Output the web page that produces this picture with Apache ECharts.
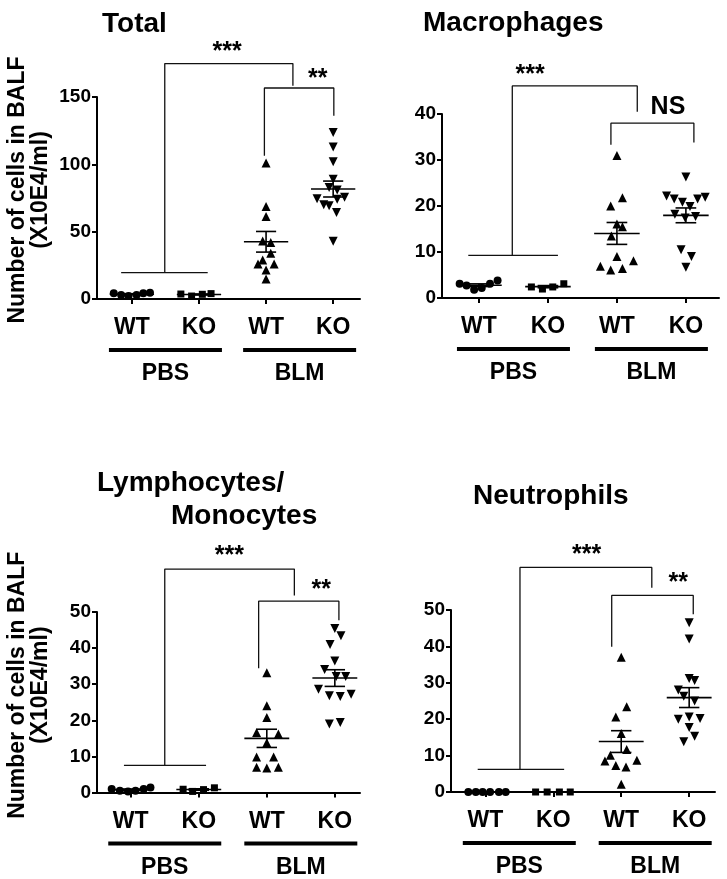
<!DOCTYPE html>
<html>
<head>
<meta charset="utf-8">
<script src="https://cdn.jsdelivr.net/npm/echarts@6/dist/echarts.min.js"></script>
<style>
html, body { margin: 0; padding: 0; background: #fff; }
#chart { width: 727px; height: 879px; }
</style>
</head>
<body>
<div id="chart"></div>
<script>
const xLabels = ['WT', 'KO', 'WT', 'KO']
const groupLabels = ['PBS', 'BLM']

// [x jitter position, value]
const totalPbsWt = [[0.73, 4.2], [0.84, 3.0], [0.95, 2.2], [1.07, 3.0], [1.17, 4.2], [1.27, 4.7]]
const totalPbsKo = [[1.73, 3.7], [1.89, 2.2], [2.05, 3.5], [2.18, 4.0]]
const totalBlmWt = [[3.0, 101], [3.0, 68.7], [3.0, 61.2], [2.95, 43], [3.07, 42], [3.07, 34],
  [2.95, 29], [2.88, 26], [3.12, 26], [3.0, 21.6], [3.0, 14.9]]
const totalBlmKo = [[4.0, 123.7], [4.0, 112.8], [4.0, 101.9], [4.0, 89], [3.94, 82.8], [4.06, 81],
  [3.76, 74.4], [3.86, 70], [3.94, 69.2], [4.06, 74], [4.17, 75.6], [4.05, 64.2], [4.0, 42.9]]

const macroPbsWt = [[0.72, 3.1], [0.82, 2.7], [0.93, 1.8], [1.04, 2.2], [1.16, 3.1], [1.27, 3.8]]
const macroPbsKo = [[1.76, 2.4], [1.92, 1.95], [2.07, 2.4], [2.23, 3.1]]
const macroBlmWt = [[3.0, 31.0], [3.08, 21.8], [2.91, 20.0], [3.0, 16.1], [3.08, 15.5], [2.92, 13.5],
  [3.0, 9.0], [2.76, 6.9], [2.91, 6.1], [3.08, 6.4], [3.24, 8.1]]
const macroBlmKo = [[4.0, 26.3], [3.72, 22.2], [3.83, 21.5], [3.95, 20.8], [4.17, 21.5], [4.28, 21.9],
  [4.06, 19.9], [3.84, 18.2], [3.99, 17.4], [4.14, 17.7], [3.93, 10.5], [4.08, 9.0], [4.0, 6.7]]

const lymphPbsWt = [[0.72, 1.0], [0.84, 0.5], [0.96, 0.3], [1.07, 0.5], [1.19, 1.0], [1.29, 1.4]]
const lymphPbsKo = [[1.77, 0.9], [1.91, 0.3], [2.07, 0.8], [2.23, 1.3]]
const lymphBlmWt = [[3.0, 33.2], [3.0, 24.0], [3.0, 20.8], [2.85, 16.6], [3.17, 16.2], [3.0, 13.8],
  [2.85, 9.8], [3.1, 9.8], [2.85, 7.0], [3.0, 6.8], [3.17, 7.0]]
const lymphBlmKo = [[4.0, 45.4], [4.09, 43.4], [3.93, 41.0], [4.0, 36.4], [3.85, 34.1], [4.02, 32.1],
  [4.16, 32.1], [3.76, 28.6], [3.92, 26.8], [4.08, 26.6], [4.24, 27.2], [3.92, 19.0], [4.08, 19.4]]

const neutroPbsWt = [[0.75, 0], [0.86, 0], [0.96, 0], [1.07, 0], [1.2, 0], [1.3, 0]]
const neutroPbsKo = [[1.74, 0], [1.91, 0], [2.09, 0], [2.25, 0]]
const neutroBlmWt = [[3.0, 37.0], [3.08, 23.4], [2.92, 20.6], [3.0, 16.1], [3.08, 11.7], [2.84, 10.1],
  [2.76, 8.5], [2.92, 7.3], [3.07, 6.9], [3.23, 8.7], [3.0, 2.1]]
const neutroBlmKo = [[4.0, 46.5], [4.0, 42.0], [4.0, 31.2], [4.08, 30.6], [3.84, 28.0], [3.92, 26.3],
  [4.08, 25.0], [3.84, 20.0], [4.0, 20.6], [4.16, 20.2], [4.0, 17.7], [4.08, 15.3], [3.92, 13.8]]

// significance brackets (polylines) and their labels
const totalBrackets = [
  [[0.84, 19.6], [2.13, 19.6]],
  [[1.49, 19.6], [1.49, 174.8], [3.4, 174.8], [3.4, 158.4]],
  [[2.975, 106.3], [2.975, 156.7], [4.01, 156.7], [4.01, 136.1]]
]
const totalMarks = [[2.42, 183.4, '***'], [3.77, 163.3, '**']]

const macroBrackets = [
  [[0.845, 9.26], [2.145, 9.26]],
  [[1.483, 9.26], [1.483, 46.1], [3.295, 46.1], [3.295, 40.5]],
  [[2.913, 33.3], [2.913, 38.0], [4.116, 38.0], [4.116, 33.8]]
]
const macroMarks = [[1.74, 48.5, '***'], [3.74, 41.6, 'NS']]

const lymphBrackets = [
  [[0.9, 7.5], [2.107, 7.5]],
  [[1.5, 7.5], [1.5, 61.9], [3.405, 61.9], [3.405, 54.6]],
  [[2.88, 34.4], [2.88, 53.0], [4.06, 53.0], [4.06, 47.7]]
]
const lymphMarks = [[2.45, 65.4, '***'], [3.8, 56.2, '**']]

const neutroBrackets = [
  [[0.888, 6.24], [2.16, 6.24]],
  [[1.51, 6.24], [1.51, 61.7], [3.45, 61.7], [3.45, 56.1]],
  [[2.86, 39.9], [2.86, 54.0], [4.06, 54.0], [4.06, 48.8]]
]
const neutroMarks = [[2.49, 65.0, '***'], [3.84, 57.3, '**']]

const FONT = '"Liberation Sans", Arial, sans-serif'
const yName = 'Number of cells in BALF\n(X10E4/ml)'
const symbols = [
  { symbol: 'circle', size: 8, rotate: 0 },
  { symbol: 'rect', size: 7, rotate: 0 },
  { symbol: 'triangle', size: 9, rotate: 0 },
  { symbol: 'triangle', size: 9, rotate: 180 }
]

const panels = [
  {
    grid: { left: 97, top: 97, width: 263, height: 202 },
    xMin: 0.48, xMax: 4.4, yMax: 150, yStep: 50, showName: true, namePad: 16,
    groups: [totalPbsWt, totalPbsKo, totalBlmWt, totalBlmKo],
    brackets: totalBrackets, marks: totalMarks
  },
  {
    grid: { left: 442, top: 114, width: 277, height: 184 },
    xMin: 0.464, xMax: 4.48, yMax: 40, yStep: 10, showName: false,
    groups: [macroPbsWt, macroPbsKo, macroBlmWt, macroBlmKo],
    brackets: macroBrackets, marks: macroMarks
  },
  {
    grid: { left: 97, top: 612, width: 263, height: 181 },
    xMin: 0.504, xMax: 4.37, yMax: 50, yStep: 10, showName: true, namePad: 34,
    groups: [lymphPbsWt, lymphPbsKo, lymphBlmWt, lymphBlmKo],
    brackets: lymphBrackets, marks: lymphMarks
  },
  {
    grid: { left: 451, top: 610, width: 264, height: 182 },
    xMin: 0.495, xMax: 4.38, yMax: 50, yStep: 10, showName: false,
    groups: [neutroPbsWt, neutroPbsKo, neutroBlmWt, neutroBlmKo],
    brackets: neutroBrackets, marks: neutroMarks
  }
]

const meanSem = (pts) => {
  const v = pts.map((p) => p[1])
  const n = v.length
  const m = v.reduce((a, b) => a + b, 0) / n
  const sd = Math.sqrt(v.reduce((a, b) => a + (b - m) * (b - m), 0) / (n - 1))
  return [m, sd / Math.sqrt(n)]
}

const titleStyle = { fontSize: 28, fontWeight: 'bold', color: '#000', fontFamily: FONT }
const title = [
  { text: 'Total', left: 97, top: 5, textStyle: titleStyle },
  { text: 'Macrophages', left: 418, top: 4, textStyle: titleStyle },
  { text: 'Lymphocytes/', left: 92, top: 464, textStyle: titleStyle },
  { text: 'Monocytes', left: 166, top: 497, textStyle: titleStyle },
  { text: 'Neutrophils', left: 468, top: 477, textStyle: titleStyle }
]

const grid = []
const xAxis = []
const yAxis = []
const series = []

panels.forEach((p, i) => {
  grid.push(p.grid)
  // tick axis with WT / KO
  xAxis.push({
    type: 'value',
    gridIndex: i,
    min: p.xMin,
    max: p.xMax,
    position: 'bottom',
    splitLine: { show: false },
    axisLine: { show: true, onZero: false, lineStyle: { color: '#000', width: 2 } },
    axisTick: { show: true, customValues: [1, 2, 3, 4], length: 5, lineStyle: { color: '#000', width: 2 } },
    axisLabel: {
      customValues: [1, 2, 3, 4],
      formatter: (v) => xLabels[Math.round(v) - 1],
      margin: 17,
      color: '#000',
      fontSize: 23,
      fontWeight: 'bold',
      fontFamily: FONT,
      lineHeight: 24
    }
  })
  // group axis with underline bar + PBS / BLM
  xAxis.push({
    type: 'value',
    gridIndex: i,
    min: p.xMin,
    max: p.xMax,
    position: 'bottom',
    offset: 0,
    splitLine: { show: false },
    axisLine: { show: false },
    axisTick: { show: false },
    axisLabel: {
      customValues: [1.5, 3.5],
      formatter: (v) => '{bar|}\n{g|' + groupLabels[v < 2.5 ? 0 : 1] + '}',
      margin: 49,
      rich: {
        bar: { width: 113, height: 4, lineHeight: 4, backgroundColor: '#000' },
        g: { fontSize: 23, fontWeight: 'bold', color: '#000', fontFamily: FONT, lineHeight: 44 }
      }
    }
  })
  yAxis.push({
    type: 'value',
    gridIndex: i,
    min: 0,
    max: p.yMax,
    interval: p.yStep,
    splitLine: { show: false },
    axisLine: { show: true, lineStyle: { color: '#000', width: 2 } },
    axisTick: { show: true, length: 5, lineStyle: { color: '#000', width: 2 } },
    axisLabel: { color: '#000', fontSize: 19, fontWeight: 'bold', fontFamily: FONT, margin: 6 },
    name: p.showName ? yName : '',
    nameLocation: 'middle',
    nameRotate: 90,
    nameGap: 45,
    nameTextStyle: {
      color: '#000', fontSize: 23, fontWeight: 'bold', fontFamily: FONT, lineHeight: 23,
      padding: [0, 0, 0, p.namePad || 0]
    }
  })

  p.groups.forEach((pts, g) => {
    series.push({
      type: 'scatter',
      xAxisIndex: i * 2,
      yAxisIndex: i,
      symbol: symbols[g].symbol,
      symbolSize: symbols[g].size,
      symbolRotate: symbols[g].rotate,
      itemStyle: { color: '#000', opacity: 1 },
      clip: false,
      z: 3,
      data: pts
    })
  })

  // mean ± SEM bars
  series.push({
    type: 'custom',
    xAxisIndex: i * 2,
    yAxisIndex: i,
    clip: false,
    z: 4,
    data: p.groups.map((pts, g) => [g + 1].concat(meanSem(pts))),
    renderItem: (params, api) => {
      const cx = api.value(0)
      const m = api.value(1)
      const s = api.value(2)
      const seg = (x1, y1, x2, y2) => {
        const a = api.coord([x1, y1])
        const b = api.coord([x2, y2])
        return {
          type: 'line',
          shape: { x1: a[0], y1: a[1], x2: b[0], y2: b[1] },
          style: { stroke: '#000', lineWidth: 1.6 }
        }
      }
      return {
        type: 'group',
        children: [
          seg(cx - 0.33, m, cx + 0.33, m),
          seg(cx, m - s, cx, m + s),
          seg(cx - 0.15, m + s, cx + 0.15, m + s),
          seg(cx - 0.15, m - s, cx + 0.15, m - s)
        ]
      }
    }
  })

  p.brackets.forEach((line) => {
    series.push({
      type: 'line',
      xAxisIndex: i * 2,
      yAxisIndex: i,
      symbol: 'none',
      clip: false,
      lineStyle: { color: '#111', width: 1.3 },
      data: line
    })
  })

  series.push({
    type: 'scatter',
    xAxisIndex: i * 2,
    yAxisIndex: i,
    symbolSize: 1,
    itemStyle: { color: 'rgba(0,0,0,0)', opacity: 1 },
    clip: false,
    data: p.marks.map((m) => ({ value: [m[0], m[1]], name: m[2] })),
    label: {
      show: true,
      position: 'inside',
      formatter: (d) => d.name,
      color: '#000',
      fontFamily: FONT,
      fontWeight: 'bold',
      fontSize: 25
    }
  })
})

const chart = echarts.init(document.getElementById('chart'))
chart.setOption({
  backgroundColor: '#fff',
  animation: false,
  title,
  grid,
  xAxis,
  yAxis,
  series
})
</script>
</body>
</html>
